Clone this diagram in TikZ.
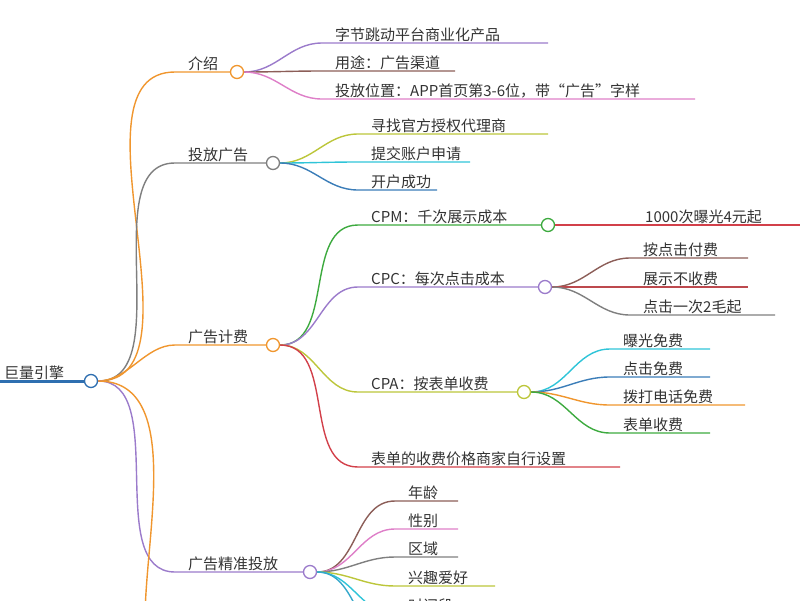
\documentclass[tikz,border=0pt]{standalone}
\usepackage{fontspec}
\newfontfamily\cjk{Noto Sans CJK SC}
\usetikzlibrary{positioning}

\definecolor{cOrange}{HTML}{F0962E}
\definecolor{cGray}{HTML}{7F7F7F}
\definecolor{cPurple}{HTML}{9B7BCB}
\definecolor{cBrown}{HTML}{8C5E58}
\definecolor{cPink}{HTML}{DE7FC8}
\definecolor{cLime}{HTML}{BCC63A}
\definecolor{cCyan}{HTML}{2FC4D8}
\definecolor{cBlue}{HTML}{3B7DB8}
\definecolor{cGreen}{HTML}{3DAA3F}
\definecolor{cRed}{HTML}{D2404A}
\definecolor{cRoot}{HTML}{2F6FB0}

\tikzset{
  lbl/.style={anchor=south west, inner sep=1pt, text=black!80, font=\cjk\fontsize{15}{18}\selectfont},
  dot/.style={circle, draw, fill=white, line width=1.3pt, minimum size=13pt, inner sep=0pt},
  edge/.style={line width=1.4pt},
}
% leaf: colour, parent node, start x, y, end x, text
\newcommand\leaf[6]{%
  \draw[edge, #1] (#2.east) to[out=0, in=180] (#3,#4) -- (#5,#4);
  \node[lbl] at (#3+12,#4) {#6};}

\begin{document}
\begin{tikzpicture}[x=1pt, y=-1pt]
    \useasboundingbox (0,0) rectangle (800,600);
    \clip (0,0) rectangle (800,600);

    % Root
    \node[dot, draw=cRoot] (root) at (91,381) {};
    \draw[cRoot, line width=3pt] (0,381) -- (root.west);
    \node[lbl] at (3,381) {巨量引擎};

    % Main branches
    \node[dot, draw=cOrange] (intro) at (237,72) {};
    \node[dot, draw=cGray] (launch) at (273,163) {};
    \node[dot, draw=cOrange] (billing) at (273,345) {};
    \node[dot, draw=cPurple] (target) at (310,572) {};

    \draw[edge, cOrange] (root.east) to[out=0, in=180, looseness=0.9] (175,72) -- (intro.west);
    \draw[edge, cGray] (root.east) to[out=0, in=180, looseness=0.9] (175,163) -- (launch.west);
    \draw[edge, cOrange] (root.east) to[out=0, in=180, looseness=0.9] (175,345) -- (billing.west);
    \draw[edge, cPurple] (root.east) to[out=0, in=180, looseness=0.9] (175,572) -- (target.west);
    \draw[edge, cOrange] (root.east) to[out=0, in=90, looseness=0.9] (145,620);

    \node[lbl] at (187,72) {介绍};
    \node[lbl] at (187,163) {投放广告};
    \node[lbl] at (187,345) {广告计费};
    \node[lbl] at (187,572) {广告精准投放};

    % 介绍
    \leaf{cPurple}{intro}{322}{43}{548}{字节跳动平台商业化产品}
    \leaf{cBrown}{intro}{322}{71}{455}{用途：广告渠道}
    \leaf{cPink}{intro}{322}{99}{695}{投放位置：APP首页第3-6位，带“广告”字样}

    % 投放广告
    \leaf{cLime}{launch}{358}{134}{548}{寻找官方授权代理商}
    \leaf{cCyan}{launch}{358}{162}{470}{提交账户申请}
    \leaf{cBlue}{launch}{358}{190}{437}{开户成功}

    % 广告计费
    \node[dot, draw=cGreen] (cpm) at (548,225) {};
    \node[dot, draw=cPurple] (cpc) at (545,287) {};
    \node[dot, draw=cLime] (cpa) at (524,392) {};
    \draw[edge, cGreen] (billing.east) to[out=0, in=180] (358,225) -- (cpm.west);
    \draw[edge, cPurple] (billing.east) to[out=0, in=180] (358,287) -- (cpc.west);
    \draw[edge, cLime] (billing.east) to[out=0, in=180] (358,392) -- (cpa.west);
    \node[lbl] at (370,225) {CPM：千次展示成本};
    \node[lbl] at (370,287) {CPC：每次点击成本};
    \node[lbl] at (370,392) {CPA：按表单收费};
    \leaf{cRed}{billing}{358}{467}{620}{表单的收费价格商家自行设置}

    \leaf{cRed}{cpm}{632}{225}{800}{1000次曝光4元起}

    \leaf{cBrown}{cpc}{630}{258}{748}{按点击付费}
    \leaf{cRed!70!cBrown}{cpc}{630}{287}{748}{展示不收费}
    \leaf{cGray}{cpc}{630}{315}{775}{点击一次2毛起}

    \leaf{cCyan}{cpa}{610}{349}{710}{曝光免费}
    \leaf{cBlue}{cpa}{610}{377}{710}{点击免费}
    \leaf{cOrange}{cpa}{610}{405}{745}{拨打电话免费}
    \leaf{cGreen}{cpa}{610}{433}{710}{表单收费}

    % 广告精准投放
    \leaf{cBrown}{target}{395}{501}{458}{年龄}
    \leaf{cPink}{target}{395}{529}{458}{性别}
    \leaf{cGray}{target}{395}{557}{458}{区域}
    \leaf{cLime}{target}{395}{586}{495}{兴趣爱好}
    \leaf{cCyan}{target}{395}{614}{480}{时间段}
    \leaf{cCyan!60!cBlue}{target}{395}{642}{480}{}
\end{tikzpicture}
\end{document}
